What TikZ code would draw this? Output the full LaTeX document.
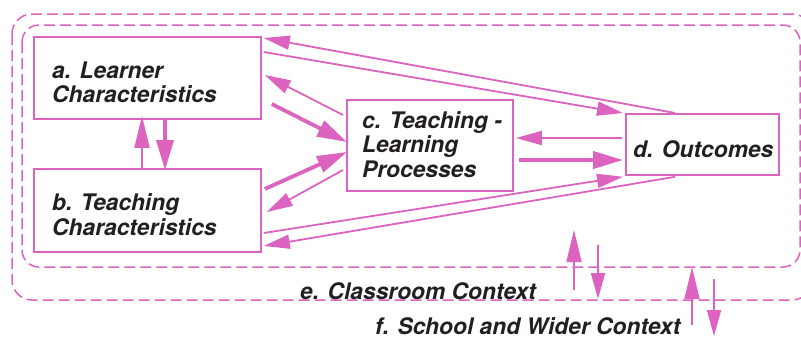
\documentclass[tikz,border=0pt]{standalone}
\usepackage{fontspec}
\setmainfont{TeX Gyre Heros}
\usetikzlibrary{arrows.meta,calc}
\definecolor{pk}{RGB}{220,100,192}
\definecolor{ink}{RGB}{35,31,32}
\tikzset{
  box/.style={draw=pk,line width=1.8pt,rectangle,inner sep=0pt},
  ctx/.style={draw=pk,line width=1.5pt,dash pattern=on 11pt off 5pt},
  lbl/.style={inner sep=0pt,anchor=base west,text=ink,font=\fontsize{22.8}{24}\selectfont\bfseries\itshape},
  thin/.style={draw=pk,line width=1.8pt,-{Triangle[length=26pt,width=14pt]},fill=pk},
  thick/.style={draw=pk,line width=3.8pt,-{Triangle[length=30pt,width=17pt]},fill=pk},
  tall/.style={draw=pk,line width=1.8pt,-{Triangle[length=32pt,width=15pt]},fill=pk},
}
\begin{document}
\begin{tikzpicture}[x=1pt,y=-1pt]
\useasboundingbox (0,0) rectangle (801,338);
\fill[white] (0,0) rectangle (801,338);
% context frames
\draw[ctx,rounded corners=20pt] (12,14) rectangle (812,300);
\draw[ctx,rounded corners=17pt] (22,25) rectangle (800,267);
% boxes
\node[box,minimum width=227pt,minimum height=82pt,anchor=north west] (a) at (33,36) {};
\node[box,minimum width=227pt,minimum height=83pt,anchor=north west] (b) at (33,168) {};
\node[box,minimum width=166pt,minimum height=91pt,anchor=north west] (c) at (346,99) {};
\node[box,minimum width=153pt,minimum height=61pt,anchor=north west] (d) at (625,113) {};
% labels
\node[lbl] (a1) at (52,78) {a. Learner};
\node[lbl] (a2) at (52,102) {Characteristics};
\node[lbl] (b1) at (52,210) {b. Teaching};
\node[lbl] (b2) at (52,235) {Characteristics};
\node[lbl] (c1) at (362,128) {c. Teaching -};
\node[lbl] (c2) at (362,152) {Learning};
\node[lbl] (c3) at (362,177) {Processes};
\node[lbl] (d1) at (633,157) {d. Outcomes};
\node[lbl] (e1) at (300,299) {e. Classroom Context};
\node[lbl] (f1) at (375,334.5) {f. School and Wider Context};
% connectors
\draw[thin] ($(d.north west)+(50,0)$) -- ($(a.north east)+(2,2)$);
\draw[thin] ($(a.north east)+(2,16)$) -- ($(d.north west)+(-2,0)$);
\draw[thin] ($(c.north west)+(-3,16)$) -- ($(a.north east)+(3,39)$);
\draw[thick] ($(a.north east)+(10,68)$) -- ($(c.north west)+(1,43)$);
\draw[thick] ($(b.north east)+(3,21)$) -- ($(c.north west)+(1,53)$);
\draw[thin] ($(c.north west)+(-3,71)$) -- ($(b.north east)+(5,44)$);
\draw[thin] ($(d.north west)+(-3,25)$) -- ($(c.north east)+(2,39)$);
\draw[thick] ($(c.north east)+(5,61)$) -- ($(d.north west)+(-2,47)$);
\draw[thin] ($(b.north east)+(2,65)$) -- ($(d.south west)+(-2,1)$);
\draw[thin] ($(d.south west)+(50,1)$) -- ($(b.north east)+(2,78)$);
\draw[tall] ($(b.north west)+(109,0)$) -- ($(a.south west)+(109,-4)$);
\draw[thick] ($(a.south west)+(132,0)$) -- ($(b.north west)+(132,2)$);
% context arrows
\coordinate (e1s) at (574,290); \coordinate (e1t) at (574,230);
\coordinate (e2s) at (598,245); \coordinate (e2t) at (598,299);
\coordinate (f1s) at (692,325); \coordinate (f1t) at (692,267);
\coordinate (f2s) at (714,279); \coordinate (f2t) at (714,336);
\draw[tall] (e1s) -- (e1t);
\draw[thin] (e2s) -- (e2t);
\draw[tall] (f1s) -- (f1t);
\draw[thin] (f2s) -- (f2t);
\end{tikzpicture}
\end{document}
